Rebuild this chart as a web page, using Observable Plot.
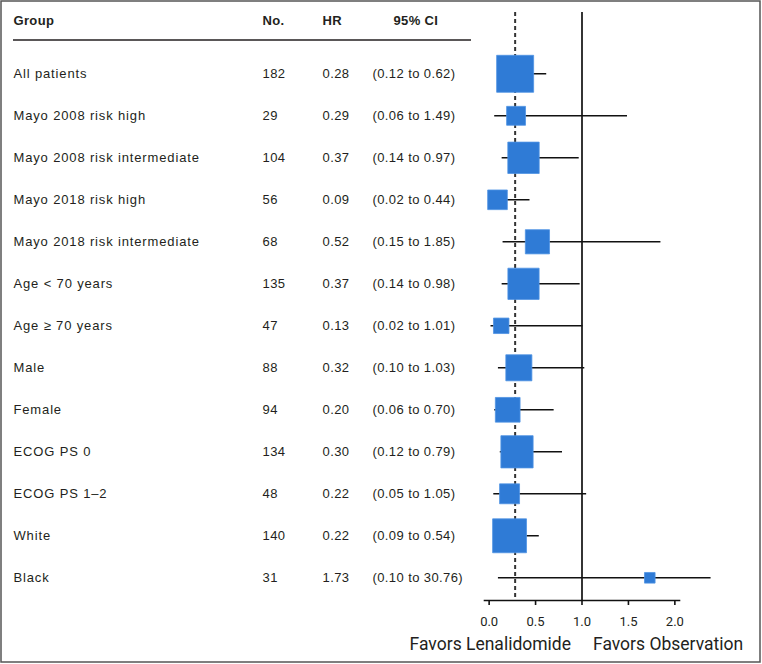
<!DOCTYPE html>
<html>
<head>
<meta charset="utf-8">
<script src="https://cdn.jsdelivr.net/npm/d3@7"></script>
<script src="https://cdn.jsdelivr.net/npm/@observablehq/plot@0.6"></script>
<style>
  html, body { margin: 0; padding: 0; background: #fff; }
  #chart svg { display: block; }
</style>
</head>
<body>
<div id="chart"></div>
<script>
// ---- data ----
const groups = [
  "All patients",
  "Mayo 2008 risk high",
  "Mayo 2008 risk intermediate",
  "Mayo 2018 risk high",
  "Mayo 2018 risk intermediate",
  "Age < 70 years",
  "Age \u2265 70 years",
  "Male",
  "Female",
  "ECOG PS 0",
  "ECOG PS 1\u20132",
  "White",
  "Black"
];
const nPatients = [182, 29, 104, 56, 68, 135, 47, 88, 94, 134, 48, 140, 31];
const hr        = [0.28, 0.29, 0.37, 0.09, 0.52, 0.37, 0.13, 0.32, 0.20, 0.30, 0.22, 0.22, 1.73];
const ciLow     = [0.12, 0.06, 0.14, 0.02, 0.15, 0.14, 0.02, 0.10, 0.06, 0.12, 0.05, 0.09, 0.10];
const ciHigh    = [0.62, 1.49, 0.97, 0.44, 1.85, 0.98, 1.01, 1.03, 0.70, 0.79, 1.05, 0.54, 30.76];
const headers   = ["Group", "No.", "HR", "95% CI"];
const xTicks    = [0, 0.5, 1, 1.5, 2];
const sideLabels = ["Favors Lenalidomide", "Favors Observation"];

// ---- layout / style ----
const W = 762, H = 664;
const marginLeft = 484, marginRight = 83, marginTop = 12, marginBottom = 64;
const xCap = 2.39;               // CI lines truncated at the plot edge
const colX = [13, 262, 322, 393]; // header x
const rowColX = [13, 262, 322, 372];
const blue = "#2f7bd6";
const ink = "#231f20";

const rows = groups.map((g, i) => ({
  group: g, n: nPatients[i], hr: hr[i], lo: ciLow[i], hi: ciHigh[i],
  precision: 1 / Math.log(ciHigh[i] / ciLow[i])
}));
const overall = hr[0];

const decor = (index, scales, values, dims) => {
  const g = d3.create("svg:g");
  g.append("rect").attr("x", 1).attr("y", 1).attr("width", W - 3).attr("height", H - 3)
    .attr("fill", "none").attr("stroke", "#555").attr("stroke-width", 1.5);
  g.append("line").attr("x1", 13).attr("x2", 471).attr("y1", 40).attr("y2", 40)
    .attr("stroke", ink).attr("stroke-width", 1.6);
  return g.node();
};

const textCols = [
  {key: d => d.group, cls: "group-col"},
  {key: d => String(d.n), cls: "num-col"},
  {key: d => d.hr.toFixed(2), cls: "num-col"},
  {key: d => `(${d.lo.toFixed(2)} to ${d.hi.toFixed(2)})`, cls: "num-col"}
];

const chart = Plot.plot({
  width: W, height: H,
  marginLeft, marginRight, marginTop, marginBottom,
  style: {fontFamily: "'Liberation Sans', Arial, sans-serif", fontSize: "13px", color: ink, background: "#fff"},
  x: {domain: [-0.05, 2.05], axis: null},
  y: {type: "point", domain: groups, range: [73.3, 577.3], padding: 0, round: false, axis: null},
  r: {type: "linear", domain: [0, 1], range: [0, 34.27]},
  marks: [
    decor,
    Plot.ruleX([overall], {stroke: "#333", strokeWidth: 2, strokeDasharray: "4,3"}),
    Plot.ruleY(rows, {y: "group", x1: "lo", x2: d => Math.min(d.hi, xCap), stroke: "#111", strokeWidth: 1.6}),
    Plot.ruleX([1], {stroke: "#111", strokeWidth: 1.7}),
    Plot.dot(rows, {x: "hr", y: "group", r: "precision", symbol: "square", fill: blue, stroke: "#4f93e3", strokeWidth: 0.8}),
    Plot.frame({anchor: "bottom", stroke: "#111", strokeWidth: 1.6}),
    Plot.axisX({ticks: xTicks, tickFormat: d3.format(".1f"), tickSize: 5, tickPadding: 11,
      fontSize: 13, fontFamily: "Roboto", stroke: "#111", strokeWidth: 1.6, label: null, fill: ink}),
    ...headers.map((h, i) => Plot.text([h], {
      text: d => d, frameAnchor: "top-left", lineAnchor: "middle", dx: colX[i] - marginLeft, dy: 8.5,
      textAnchor: "start", fontWeight: "bold", fill: ink, ariaDescription: "header"
    })),
    ...textCols.map((c, i) => Plot.text(rows, {
      y: "group", text: c.key, frameAnchor: "left", lineAnchor: "middle", dx: rowColX[i] - marginLeft, dy: 0.5,
      textAnchor: "start", fill: ink, ariaDescription: c.cls
    })),
    Plot.text([{x: 1, t: sideLabels[0]}], {x: "x", text: "t", frameAnchor: "bottom", lineAnchor: "middle", textAnchor: "end",
      dx: -11, dy: 44, fontSize: 17.5, fontFamily: "Roboto", fill: ink}),
    Plot.text([{x: 1, t: sideLabels[1]}], {x: "x", text: "t", frameAnchor: "bottom", lineAnchor: "middle", textAnchor: "start",
      dx: 11, dy: 44, fontSize: 17.5, fontFamily: "Roboto", fill: ink})
  ]
});
const spacing = {"group-col": "0.85px", "num-col": "0.4px", "header": "0.35px"};
d3.select(chart).selectAll("g[aria-description]").each(function () {
  const ls = spacing[this.getAttribute("aria-description")];
  if (ls) d3.select(this).selectAll("text").style("letter-spacing", ls);
});
document.getElementById("chart").append(chart);
</script>
</body>
</html>
